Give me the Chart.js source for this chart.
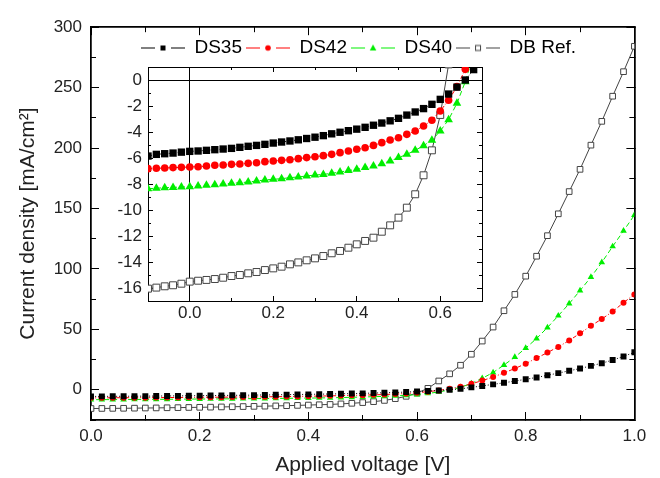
<!DOCTYPE html>
<html><head><meta charset="utf-8">
<script src="https://cdn.jsdelivr.net/npm/chart.js@4"></script>
<style>
html,body{margin:0;padding:0;background:#fff;}
#wrap{position:relative;width:660px;height:478px;overflow:hidden;}
#main{position:absolute;left:0;top:0;}
#inset{position:absolute;left:95px;top:28px;}
</style></head><body>
<div id="wrap">
<canvas id="main" width="660" height="478"></canvas>
<canvas id="inset" width="527" height="300"></canvas>
</div>
<script>
// ---- data ----
const voltage = [-0.10,-0.08,-0.06,-0.04,-0.02,0.00,0.02,0.04,0.06,0.08,0.10,0.12,0.14,0.16,0.18,0.20,0.22,0.24,0.26,0.28,0.30,0.32,0.34,0.36,0.38,0.40,0.42,0.44,0.46,0.48,0.50,0.52,0.54,0.56,0.58,0.60,0.62,0.64,0.66,0.68,0.70,0.72,0.74,0.76,0.78,0.80,0.82,0.84,0.86,0.88,0.90,0.92,0.94,0.96,0.98,1.00];
const ds35 = [-5.85,-5.72,-5.67,-5.62,-5.55,-5.49,-5.46,-5.41,-5.36,-5.31,-5.26,-5.18,-5.10,-5.03,-4.95,-4.85,-4.77,-4.69,-4.60,-4.50,-4.40,-4.28,-4.14,-4.02,-3.90,-3.78,-3.64,-3.48,-3.31,-3.14,-2.95,-2.70,-2.46,-2.20,-1.87,-1.49,-1.08,-0.55,0.00,0.80,2.0,3.2,4.5,5.8,7.2,8.7,10.2,12.0,13.8,15.7,17.6,19.8,22.0,24.6,27.6,31.0];
const ds42 = [-6.82,-6.79,-6.77,-6.74,-6.72,-6.69,-6.67,-6.62,-6.56,-6.54,-6.49,-6.46,-6.41,-6.36,-6.28,-6.23,-6.18,-6.13,-6.05,-5.97,-5.90,-5.82,-5.72,-5.59,-5.46,-5.33,-5.21,-5.03,-4.82,-4.62,-4.44,-4.18,-3.92,-3.54,-3.10,-2.38,-1.56,-0.51,0.82,2.6,4.9,7.6,10.5,14.0,17.6,21.6,26.2,30.8,35.5,40.8,46.7,52.9,58.6,64.7,72.1,78.9];
const ds40 = [-8.36,-8.33,-8.28,-8.26,-8.23,-8.21,-8.15,-8.10,-8.05,-8.00,-7.95,-7.90,-7.85,-7.77,-7.69,-7.64,-7.59,-7.51,-7.46,-7.38,-7.31,-7.26,-7.18,-7.08,-6.97,-6.87,-6.74,-6.62,-6.44,-6.23,-5.97,-5.72,-5.41,-5.05,-4.64,-3.92,-3.05,-1.79,-0.13,2.0,5.2,9.5,14.3,20.5,27.0,34.5,42.4,51.5,61.3,71.3,82.1,93.2,105.4,118.6,131.5,144.5];
const dbRef = [-16.05,-15.97,-15.87,-15.79,-15.67,-15.51,-15.44,-15.38,-15.31,-15.21,-15.08,-15.00,-14.87,-14.77,-14.62,-14.49,-14.36,-14.18,-14.03,-13.87,-13.72,-13.54,-13.33,-13.15,-12.90,-12.64,-12.38,-12.13,-11.67,-11.18,-10.59,-9.82,-8.79,-7.33,-5.41,-2.69,1.2,7.3,13.2,20.3,29.4,40.3,51.9,65.4,78.9,94.0,110.5,127.5,145.6,164.0,182.4,202.4,222.1,242.9,263.2,284.2];
const seriesNames = ["DS35","DS42","DS40","DB Ref."];

// ---- ticks ----
const mainXTicks = [0,0.2,0.4,0.6,0.8,1.0];
const mainXMinor = [0,0.1,0.2,0.3,0.4,0.5,0.6,0.7,0.8,0.9,1.0];
const mainYTicks = [0,50,100,150,200,250,300];
const mainYMinor = [-25,0,25,50,75,100,125,150,175,200,225,250,275,300];
const insetXTicks = [0,0.2,0.4,0.6];
const insetXMinor = [-0.1,0,0.1,0.2,0.3,0.4,0.5,0.6,0.7];
const insetYTicks = [-16,-14,-12,-10,-8,-6,-4,-2,0];
const insetYMinor = [-17,-16,-15,-14,-13,-12,-11,-10,-9,-8,-7,-6,-5,-4,-3,-2,-1,0,1];

const FONT = "'Liberation Sans', Arial, sans-serif";
const COLORS = ['#000000','#ff0000','#00ee00','#444444'];
const STYLES = ['rect','circle','triangle','rect'];
const DASHES = [[1,2],[4,2,1,2],[5,3],[]];
const seriesValues = [ds35, ds42, ds40, dbRef];

function pts(arr){ return voltage.map((v,i)=>({x:v,y:arr[i]})); }

function makeDatasets(sizes){
  return seriesValues.map((arr,i)=>({
    label: seriesNames[i],
    data: pts(arr),
    borderColor: COLORS[i],
    borderWidth: 1,
    borderDash: DASHES[i],
    pointStyle: STYLES[i],
    pointRadius: sizes[i],
    pointBackgroundColor: i===3 ? '#ffffff' : COLORS[i],
    pointBorderColor: COLORS[i],
    pointBorderWidth: i===3 ? 1 : 0,
    tension: 0,
    fill: false
  }));
}

function tickAxis(o){
  const vertical = (o.position==='left'||o.position==='right');
  return {
    type:'linear', position:o.position, min:o.min, max:o.max, weight:o.weight||0,
    afterBuildTicks: s => { s.ticks = o.values.map(v=>({value:v})); },
    afterFit: s => { if (vertical) s.width = o.size; else s.height = o.size; },
    border: {display:true, color:'#000', width:o.bw||1},
    grid: {
      drawOnChartArea: !!o.zero, drawTicks:true, tickLength:-o.len, tickColor:'#000', tickWidth:1,
      color: o.zero ? (c => (c.tick && Math.abs(c.tick.value) < 1e-9) ? '#000' : 'rgba(0,0,0,0)') : 'rgba(0,0,0,0)',
      lineWidth:1
    },
    ticks: {display:!!o.labels, autoSkip:false, maxRotation:0, minRotation:0, padding:o.pad||0, color:'#222',
      font:{family:FONT,size:17}, callback: v => o.fmt ? o.fmt(v) : v},
    title: o.title || {display:false}
  };
}

// ---- main chart ----
new Chart(document.getElementById('main'), {
  type:'line',
  data:{datasets: makeDatasets([4.2,3.0,3.8,4.0])},
  options:{
    responsive:false, animation:false, events:[],
    layout:{padding:{left:0,right:23,top:19,bottom:0}},
    plugins:{legend:{display:false}, tooltip:{enabled:false}},
    scales:{
      x: tickAxis({position:'bottom',min:0,max:1,values:mainXTicks,len:8,size:58,labels:true,pad:13.8,fmt:v=>v.toFixed(1),weight:1,bw:1.5,
        title:{display:true,text:'Applied voltage [V]',color:'#222',font:{family:FONT,size:21},padding:{top:0,bottom:0}}}),
      xm: tickAxis({position:'bottom',min:0,max:1,values:mainXMinor,len:5,size:0,weight:0,bw:1.5}),
      xt: tickAxis({position:'top',min:0,max:1,values:mainXTicks,len:8,size:0,weight:1,bw:1.5}),
      xtm: tickAxis({position:'top',min:0,max:1,values:mainXMinor,len:5,size:0,weight:0,bw:1.5}),
      y: tickAxis({position:'left',min:-25,max:300,values:mainYTicks,len:8,size:91,labels:true,pad:17,weight:1,bw:1.5,
        title:{display:true,text:'Current density [mA/cm\u00B2]',color:'#222',font:{family:FONT,size:21},padding:{top:16,bottom:4}}}),
      ym: tickAxis({position:'left',min:-25,max:300,values:mainYMinor,len:5,size:0,weight:0,bw:1.5}),
      yr: tickAxis({position:'right',min:-25,max:300,values:mainYTicks,len:8,size:0,weight:1,bw:1.5}),
      yrm: tickAxis({position:'right',min:-25,max:300,values:mainYMinor,len:5,size:0,weight:0,bw:1.5})
    }
  }
});

// ---- legend glyphs (line - marker - line) ----
function glyph(i){
  const c = document.createElement('canvas'); c.width = 44; c.height = 14;
  const g = c.getContext('2d');
  g.strokeStyle = COLORS[i]; g.lineWidth = 1.2;
  g.beginPath(); g.moveTo(0,7.5); g.lineTo(14,7.5); g.moveTo(30,7.5); g.lineTo(44,7.5); g.stroke();
  const cx = 22, cy = 7.5;
  g.fillStyle = COLORS[i];
  if (i===0){ g.fillRect(cx-2.5,cy-2.5,5,5); }
  else if (i===1){ g.beginPath(); g.arc(cx,cy,2.8,0,Math.PI*2); g.fill(); }
  else if (i===2){ g.beginPath(); g.moveTo(cx,cy-3.6); g.lineTo(cx+3.3,cy+2.4); g.lineTo(cx-3.3,cy+2.4); g.closePath(); g.fill(); }
  else { g.fillStyle='#fff'; g.fillRect(cx-2.5,cy-2.5,5,5); g.lineWidth=1; g.strokeStyle=COLORS[3]; g.strokeRect(cx-2.5,cy-2.5,5,5); }
  return c;
}

const insetBg = {id:'insetBg', beforeDraw(chart){
  const {ctx, chartArea:a} = chart;
  ctx.save(); ctx.fillStyle='#fff'; ctx.fillRect(a.left,a.top,a.right-a.left,a.bottom-a.top); ctx.restore();
}};

// ---- inset chart (with the legend) ----
new Chart(document.getElementById('inset'), {
  type:'line',
  data:{datasets: makeDatasets([5.2,3.8,5.0,4.9])},
  plugins:[insetBg],
  options:{
    responsive:false, animation:false, events:[],
    layout:{padding:{left:0,right:0,top:6,bottom:0}},
    plugins:{
      tooltip:{enabled:false},
      legend:{display:true, position:'top', align:'center',
        labels:{usePointStyle:true, pointStyleWidth:44, padding:4, color:'#000', font:{family:FONT,size:19},
          generateLabels: chart => chart.data.datasets.map((d,i)=>({text:d.label, pointStyle:glyph(i), fontColor:'#000', datasetIndex:i, hidden:false, lineWidth:0, strokeStyle:'rgba(0,0,0,0)', fillStyle:'rgba(0,0,0,0)'}))
        }}
    },
    scales:{
      x: tickAxis({position:'bottom',min:-0.1,max:0.7,values:insetXTicks,len:5,size:27,labels:true,pad:7.5,fmt:v=>v.toFixed(1),weight:1,zero:true}),
      xm: tickAxis({position:'bottom',min:-0.1,max:0.7,values:insetXMinor,len:3,size:0,weight:0}),
      xt: tickAxis({position:'top',min:-0.1,max:0.7,values:insetXTicks,len:5,size:0,weight:1}),
      xtm: tickAxis({position:'top',min:-0.1,max:0.7,values:insetXMinor,len:3,size:0,weight:0}),
      y: tickAxis({position:'left',min:-17,max:1,values:insetYTicks,len:5,size:53,labels:true,pad:11,weight:1,zero:true}),
      ym: tickAxis({position:'left',min:-17,max:1,values:insetYMinor,len:3,size:0,weight:0}),
      yr: tickAxis({position:'right',min:-17,max:1,values:insetYTicks,len:5,size:140,weight:1}),
      yrm: tickAxis({position:'right',min:-17,max:1,values:insetYMinor,len:3,size:0,weight:0})
    }
  }
});
</script>
</body></html>
